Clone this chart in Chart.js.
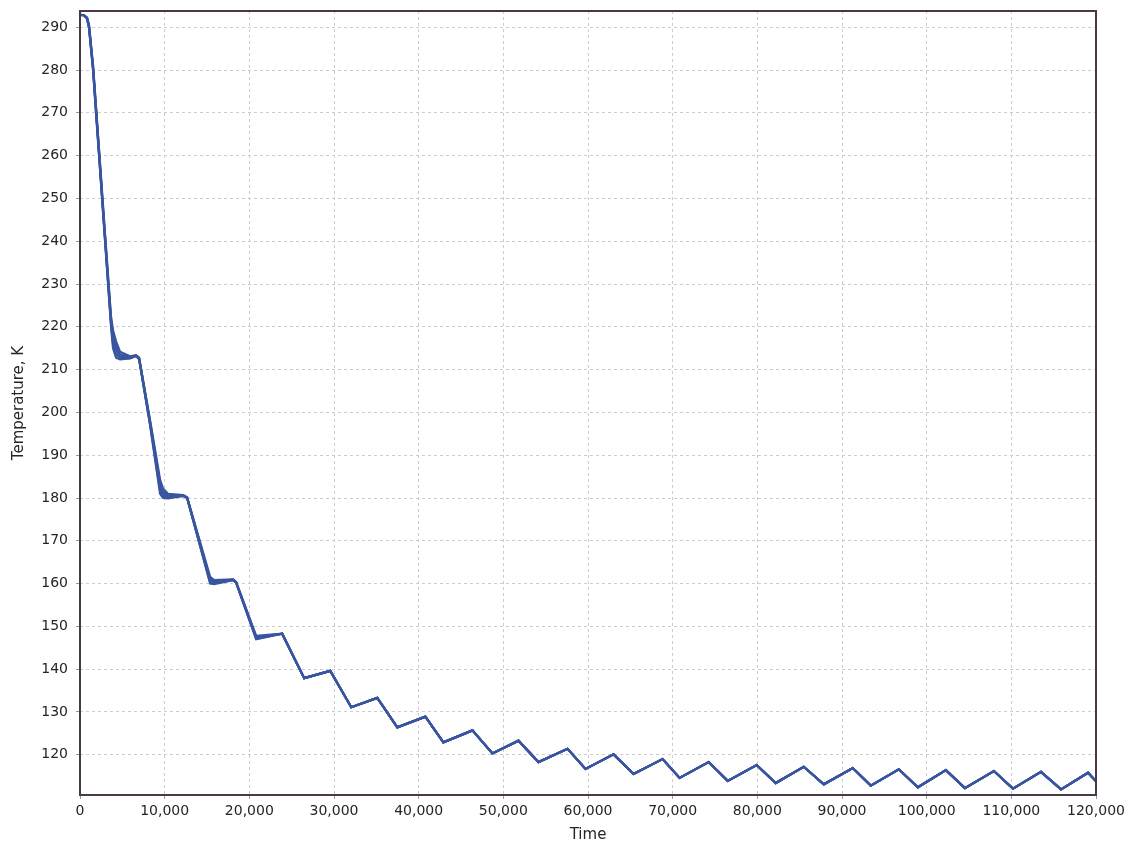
<!DOCTYPE html>
<html>
<head>
<meta charset="utf-8">
<script src="https://cdn.jsdelivr.net/npm/chart.js@4/dist/chart.umd.min.js"></script>
<style>
  html, body { margin: 0; padding: 0; background: #fff; }
  #wrap { width: 1129px; height: 845px; }
</style>
</head>
<body>
<div id="wrap"><canvas id="chart" width="1129" height="845"></canvas></div>
<script>
  'use strict';

  // early part: the runs differ a bit around the first plateaus
  const timeEarly = [0, 470, 830, 1060, 1540, 2250, 2960, 3670, 3900, 4260, 4730, 5910, 6620, 6980,
    8280, 9460, 9810, 10400, 12180, 12650, 15370, 15840, 18090, 18440, 20810];

  const tempRun1 = [292.9, 292.8, 292.0, 290.0, 280.0, 260.0, 240.0, 220.0, 215.0, 212.8, 212.4, 212.6, 213.2, 212.4,
    197.0, 181.0, 180.0, 179.9, 180.5, 180.0, 160.0, 159.9, 160.8, 160.2, 147.0];
  const tempRun2 = [292.9, 292.8, 292.0, 290.0, 280.2, 260.2, 240.3, 220.5, 216.0, 213.6, 212.7, 212.7, 213.2, 212.5,
    197.2, 181.8, 180.4, 180.1, 180.5, 180.0, 160.3, 160.1, 160.8, 160.2, 147.1];
  const tempRun3 = [292.9, 292.8, 292.1, 290.2, 280.5, 260.6, 240.7, 221.0, 217.0, 214.5, 213.1, 212.8, 213.3, 212.6,
    197.5, 182.6, 180.9, 180.3, 180.6, 180.1, 160.7, 160.3, 160.9, 160.3, 147.3];
  const tempRun4 = [292.9, 292.8, 292.2, 290.4, 280.8, 261.0, 241.1, 221.6, 218.1, 215.5, 213.6, 212.9, 213.3, 212.7,
    197.8, 183.4, 181.5, 180.6, 180.6, 180.1, 161.1, 160.5, 160.9, 160.3, 147.5];
  const tempRun5 = [292.9, 292.8, 292.3, 290.6, 281.2, 261.5, 241.6, 222.3, 219.2, 216.6, 214.2, 213.1, 213.4, 212.8,
    198.1, 184.3, 182.2, 181.0, 180.7, 180.2, 161.6, 160.8, 161.0, 160.4, 147.8];

  // later part: all runs lie on top of each other
  const timeTail = [23880, 26480, 29560, 32040, 35110, 37480, 40790, 42920, 46350, 48710, 51790, 54150,
    57580, 59710, 63020, 65380, 68810, 70820, 74250, 76500, 79920, 82170, 85480, 87850, 91270, 93400,
    96710, 98960, 102270, 104520, 107940, 110190, 113500, 115870, 119060, 120000];
  const tempTail = [148.3, 137.9, 139.6, 131.1, 133.3, 126.4, 128.9, 122.9, 125.7, 120.3, 123.3, 118.3,
    121.4, 116.7, 120.1, 115.5, 119.0, 114.6, 118.3, 113.9, 117.6, 113.4, 117.2, 113.1, 116.9, 112.8,
    116.6, 112.4, 116.4, 112.2, 116.2, 112.1, 116.0, 111.9, 115.8, 113.8];

  const yTicks = [120, 130, 140, 150, 160, 170, 180, 190, 200, 210, 220, 230, 240, 250, 260, 270, 280, 290];
  const xTicks = [0, 10000, 20000, 30000, 40000, 50000, 60000, 70000, 80000, 90000, 100000, 110000, 120000];

  const LINE = '#3a55a0';
  const TEXT = '#252525';
  const FONT = { family: '"DejaVu Sans", Verdana, sans-serif', size: 14 };
  const TITLE_FONT = { family: '"DejaVu Sans", Verdana, sans-serif', size: 15 };

  function toPoints(early) {
    const pts = timeEarly.map((t, i) => ({ x: t, y: early[i] }));
    return pts.concat(timeTail.map((t, i) => ({ x: t, y: tempTail[i] })));
  }

  const runs = [tempRun1, tempRun2, tempRun3, tempRun4, tempRun5];

  const frame = {
    id: 'frame',
    afterDatasetsDraw(chart) {
      const a = chart.chartArea;
      const ctx = chart.ctx;
      ctx.save();
      ctx.strokeStyle = '#4a3848';
      ctx.lineWidth = 2;
      ctx.strokeRect(a.left, a.top, a.right - a.left, a.bottom - a.top);
      ctx.restore();
    }
  };

  const gridOpts = { color: '#cdcdcd', tickLength: 4, tickColor: '#999', tickBorderDash: [] };

  new Chart(document.getElementById('chart').getContext('2d'), {
    type: 'line',
    data: {
      datasets: runs.map((r, i) => ({
        label: 'Run ' + (i + 1),
        data: toPoints(r),
        borderColor: LINE,
        borderWidth: 2.2,
        pointRadius: 0,
        tension: 0,
        fill: false
      }))
    },
    options: {
      responsive: false,
      animation: false,
      devicePixelRatio: 1,
      layout: { padding: { left: 0, top: 11, right: 33, bottom: 0 } },
      plugins: { legend: { display: false }, tooltip: { enabled: false } },
      scales: {
        x: {
          type: 'linear',
          min: 0,
          max: 120000,
          afterBuildTicks: s => { s.ticks = xTicks.map(v => ({ value: v })); },
          afterFit: s => { s.height = 50; },
          border: { display: false, dash: [3, 3] },
          grid: gridOpts,
          ticks: {
            color: TEXT, font: FONT, padding: 4, maxRotation: 0,
            callback: v => v.toLocaleString('en-US')
          },
          title: { display: true, text: 'Time', color: TEXT, font: TITLE_FONT, padding: { top: 0, bottom: 1 } }
        },
        y: {
          min: 110.6,
          max: 293.8,
          afterBuildTicks: s => { s.ticks = yTicks.map(v => ({ value: v })); },
          afterFit: s => { s.width = 80; s.paddingTop = 0; s.paddingBottom = 0; },
          border: { display: false, dash: [3, 3] },
          grid: gridOpts,
          ticks: { color: TEXT, font: FONT, padding: 8 },
          title: { display: true, text: 'Temperature, K', color: TEXT, font: TITLE_FONT, padding: { top: 10, bottom: 0 } }
        }
      }
    },
    plugins: [frame]
  });
</script>
</body>
</html>
